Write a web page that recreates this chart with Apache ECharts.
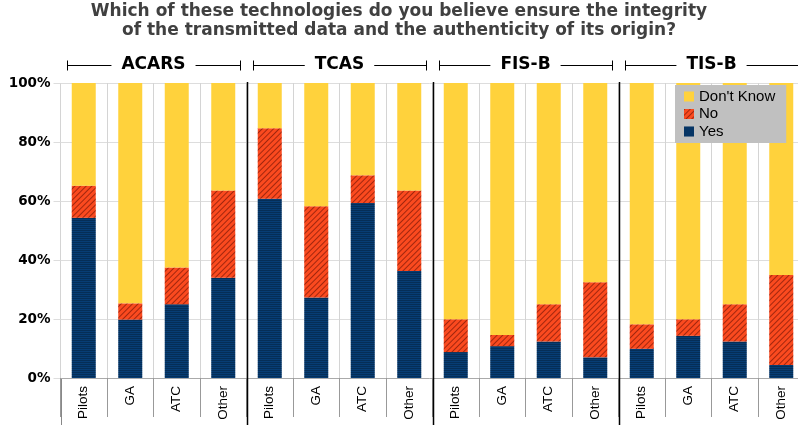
<!DOCTYPE html>
<html>
<head>
<meta charset="utf-8">
<script src="https://cdn.jsdelivr.net/npm/echarts@6/dist/echarts.min.js"></script>
<style>html,body{margin:0;padding:0;background:#fff;}#c{width:798px;height:425px;}</style>
</head>
<body>
<div id="c"></div>
<script>
const groups = ['ACARS', 'TCAS', 'FIS-B', 'TIS-B'];
const categories = ['Pilots','GA','ATC','Other','Pilots','GA','ATC','Other','Pilots','GA','ATC','Other','Pilots','GA','ATC','Other'];
const yesValues = [54.3, 19.8, 25.0, 34.0, 60.8, 27.3, 59.3, 36.3, 8.8, 10.8, 12.4, 7.0, 9.9, 14.3, 12.4, 4.4];
const noValues = [10.9, 5.5, 12.5, 29.6, 23.9, 30.9, 9.4, 27.3, 11.1, 3.8, 12.6, 25.5, 8.3, 5.6, 12.6, 30.5];
const dontKnowValues = [34.8, 74.7, 62.5, 36.4, 15.3, 41.8, 31.3, 36.4, 80.1, 85.4, 75.0, 67.5, 81.8, 80.1, 75.0, 65.1];
const yTicks = [0, 20, 40, 60, 80, 100];

const chart = echarts.init(document.getElementById('c'), null, {renderer: 'canvas'});
const option = {
  animation: false,
  title: {
    text: 'Which of these technologies do you believe ensure the integrity\nof the transmitted data and the authenticity of its origin?',
    left: 'center', top: 2, padding: [0, 0, 0, 36],
    textStyle: {fontFamily: 'DejaVu Sans', fontWeight: 'bold', fontSize: 17, lineHeight: 19, color: '#404040'}
  },
  legend: {
    data: ["Don't Know", 'No', 'Yes'],
    orient: 'vertical', left: 675, top: 85,
    backgroundColor: '#c0c0c0', borderRadius: 0,
    padding: [4, 11, 4, 9],
    itemWidth: 10, itemHeight: 10, itemGap: 2.5, icon: 'rect',
    textStyle: {fontFamily: 'Liberation Sans', fontSize: 15, lineHeight: 14, color: '#000'}
  },
  grid: {left: 60.5, top: 83, width: 744, bottom: 47, outerBoundsMode: 'none', containLabel: false},
  xAxis: {
    type: 'category', data: categories,
    axisLine: {show: true, lineStyle: {color: '#aaaaaa', width: 1}},
    axisTick: {show: true, interval: 0, length: 39, lineStyle: {color: '#999999'}},
    splitLine: {show: true, interval: 0, lineStyle: {color: '#d4d4d4'}},
    axisLabel: {interval: 0, rotate: 90, margin: 8, fontFamily: 'Liberation Sans', fontSize: 13.5, color: '#000'}
  },
  yAxis: {
    type: 'value', min: yTicks[0], max: yTicks[yTicks.length - 1], interval: 20,
    axisLine: {show: false},
    axisTick: {show: true, length: 7, lineStyle: {color: '#dddddd'}},
    splitLine: {show: true, lineStyle: {color: '#dddddd'}},
    axisLabel: {formatter: '{value}%', margin: 10, fontFamily: 'DejaVu Sans', fontWeight: 'bold', fontSize: 13.5, color: '#000'}
  },
  series: [
    {name: 'Yes', type: 'bar', stack: 's', barWidth: 24, data: yesValues,
     itemStyle: {color: '#073d74', decal: {symbol: 'rect', symbolSize: 1, color: 'rgba(0,0,0,0.25)', dashArrayX: [1, 0], dashArrayY: [1, 1], rotation: 0}}},
    {name: 'No', type: 'bar', stack: 's', barWidth: 24, data: noValues,
     itemStyle: {color: '#fb4a1f', decal: {symbol: 'rect', symbolSize: 1, color: 'rgba(90,10,0,0.55)', dashArrayX: [1, 0], dashArrayY: [1, 3], rotation: -Math.PI / 4}}},
    {name: "Don't Know", type: 'bar', stack: 's', barWidth: 24, data: dontKnowValues,
     itemStyle: {color: '#ffd23c'}}
  ]
};
chart.setOption(option);

function drawOverlay() {
  const px = i => chart.convertToPixel({xAxisIndex: 0}, i);
  const bw = px(1) - px(0);
  const yTop = chart.convertToPixel({yAxisIndex: 0}, yTicks[yTicks.length - 1]);
  const yBot = chart.convertToPixel({yAxisIndex: 0}, yTicks[0]);
  const H = chart.getHeight();
  const ctx = document.createElement('canvas').getContext('2d');
  const hdrFont = 'bold 17px "DejaVu Sans"';
  ctx.font = hdrFont;
  const els = [];
  const headerY = 65.5;
  groups.forEach((g, gi) => {
    const x0 = px(gi * 4) - bw / 2;
    const x1 = x0 + bw * 4;
    const cx = (x0 + x1) / 2;
    const tw = ctx.measureText(g).width;
    const l0 = Math.round(x0 + 6.5) + 0.5, l1 = cx - tw / 2 - 10, r0 = cx + tw / 2 + 10, r1 = Math.round(x1 - 6.5) + 0.5;
    const ls = {stroke: '#000', lineWidth: 1};
    els.push({type: 'text', x: cx, y: headerY - 0.5, style: {text: g, font: hdrFont, fill: '#000', align: 'center', verticalAlign: 'middle'}});
    els.push({type: 'line', shape: {x1: l0, y1: headerY, x2: l1, y2: headerY}, style: ls});
    els.push({type: 'line', shape: {x1: r0, y1: headerY, x2: r1, y2: headerY}, style: ls});
    els.push({type: 'line', shape: {x1: l0, y1: headerY - 5, x2: l0, y2: headerY + 5}, style: ls});
    els.push({type: 'line', shape: {x1: r1, y1: headerY - 5, x2: r1, y2: headerY + 5}, style: ls});
    if (gi > 0) {
      els.push({type: 'line', z: 10, shape: {x1: Math.round(x0) + 0.5, y1: yTop - 1, x2: Math.round(x0) + 0.5, y2: H}, style: {stroke: '#000', lineWidth: 1.5}});
    } else {
      els.push({type: 'line', shape: {x1: Math.round(x0) + 0.5, y1: yBot, x2: Math.round(x0) + 0.5, y2: H}, style: {stroke: '#888', lineWidth: 1}});
    }
  });
  chart.setOption({graphic: {elements: els}});
}
drawOverlay();
</script>
</body>
</html>
